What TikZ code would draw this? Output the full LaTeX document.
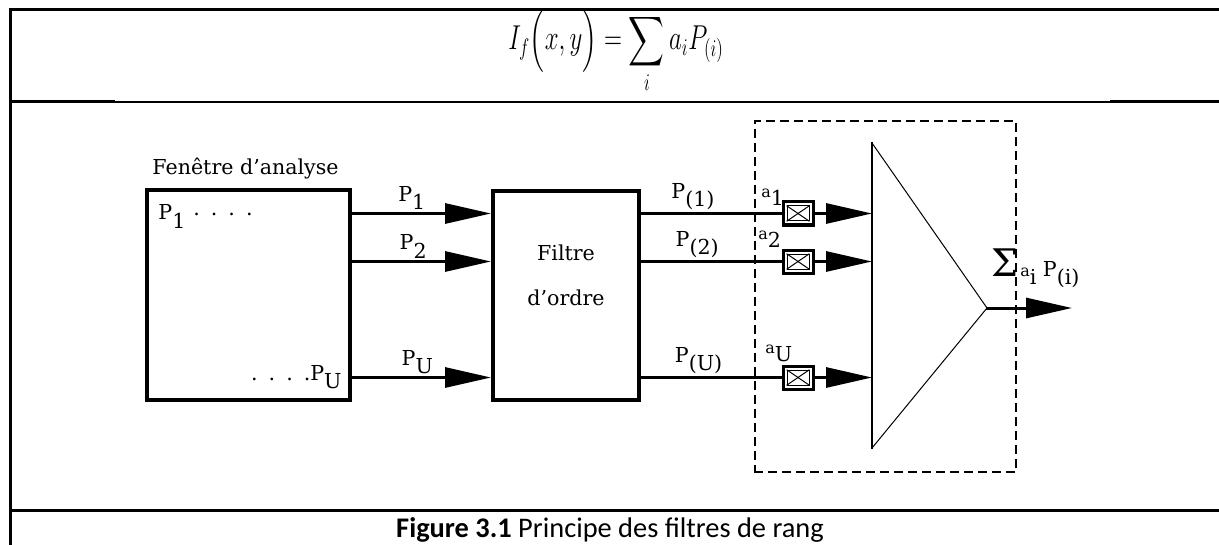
\documentclass[tikz,border=0pt]{standalone}
\usepackage{amsmath}
\usepackage{exscale}
\usepackage{fontspec}
\setmainfont{DejaVu Serif}
\newfontfamily\capfont{Carlito}
\usetikzlibrary{arrows.meta,fit}

\newcommand\low[1]{\raisebox{-.75ex}{#1}}
\newcommand\dotrow{.\hspace{5.5pt}.\hspace{5.5pt}.\hspace{5.5pt}.}

\tikzset{
  frame/.style={line width=1.5pt},
  block/.style={draw,line width=2pt,inner sep=0pt},
  wire/.style={line width=1.5pt},
  sig/.style={wire,-{Triangle[length=23pt,width=10pt]}},
  lbl/.style={inner sep=1pt,font=\fontsize{10.3}{12}\selectfont},
  gain/.style={draw,line width=1.5pt,minimum width=15pt,minimum height=11.5pt,inner sep=0pt,
    path picture={
      \draw[line width=.5pt] ([xshift=2pt,yshift=-2pt]path picture bounding box.north west)
        rectangle ([xshift=-2pt,yshift=2pt]path picture bounding box.south east);
      \draw[line width=.5pt] ([xshift=2pt,yshift=-2pt]path picture bounding box.north west)
        -- ([xshift=-2pt,yshift=2pt]path picture bounding box.south east);
      \draw[line width=.5pt] ([xshift=2pt,yshift=2pt]path picture bounding box.south west)
        -- ([xshift=-2pt,yshift=-2pt]path picture bounding box.north east);}},
  dashbox/.style={draw,line width=1pt,dash pattern=on 3.5pt off 3.5pt,inner sep=0pt},
}

\begin{document}
\begin{tikzpicture}[x=.5pt,y=-.5pt,line cap=rect]
\useasboundingbox (0,0) rectangle (1219,545);
% table lines
\draw[frame] (10,545)--(10,10)--(1219,10);
\draw[frame] (10,102)--(113,102);
\draw[line width=.75pt] (113,102)--(1111,102);
\draw[frame] (1111,102)--(1219,102);
\draw[frame] (10,510)--(1219,510);
% formula
\node[anchor=base,inner sep=0pt] (eq) at (616,50)
  {\fontsize{18.5}{22}\selectfont\scalebox{.72}[1]{$\displaystyle I_f\Bigl(x,y\Bigr)=\sum_i a_iP_{(i)}$}};
% rows
\coordinate (r1) at (0,213.5);
\coordinate (r2) at (0,261.5);
\coordinate (rU) at (0,377.5);
% analysis window
\node[lbl,anchor=base west] (wt) at (150,175) {Fenêtre d’analyse};
\node[block,fit={(147,190)(350,400)}] (win) {};
\node[lbl,anchor=base west] (w1) at (156,220) {P\low{1}\hspace{4pt}\raisebox{2pt}{\dotrow}};
\node[lbl,anchor=base east] (wU) at (344,380) {\dotrow P\low{U}};
% order filter
\node[block,fit={(493,191)(639,400)}] (ord) {};
\node[lbl] (ft1) at (566,253) {Filtre};
\node[lbl] (ft2) at (566,298) {d’ordre};
\draw[sig] (win.east |- r1) -- node[lbl,above,pos=.43] (lp1) {P\low{1}} (ord.west |- r1);
\draw[sig] (win.east |- r2) -- node[lbl,above,pos=.44] (lp2) {P\low{2}} (ord.west |- r2);
\draw[sig] (win.east |- rU) -- node[lbl,above,pos=.47] (lpU) {P\low{U}} (ord.west |- rU);
% weighted sum
\node[dashbox,fit={(755,121)(1016,472)}] (grp) {};
\coordinate (tt) at (872,143);
\coordinate (tb) at (872,448);
\coordinate (tp) at (987,308);
\draw[line width=1pt] (tt)--(tb);
\draw[line width=.5pt] (tt)--(tp)--(tb);
\node[gain] (g1) at (798,213.5) {};
\node[gain] (g2) at (798,261.5) {};
\node[gain] (gU) at (798,377.5) {};
\draw[wire] (ord.east |- r1) -- node[lbl,above,pos=.37] (lq1) {P\low{(1)}} (g1.west);
\draw[wire] (ord.east |- r2) -- node[lbl,above,pos=.40] (lq2) {P\low{(2)}} (g2.west);
\draw[wire] (ord.east |- rU) -- node[lbl,above,pos=.41] (lqU) {P\low{(U)}} (gU.west);
\node[lbl,anchor=south west] (a1) at (759,208) {{\footnotesize a}\low{1}};
\node[lbl,anchor=south west] (a2) at (756,250) {{\footnotesize a}\low{2}};
\node[lbl,anchor=south west] (aU) at (763,364) {{\footnotesize a}\low{U}};
\draw[sig] (g1.east) -- (tt |- r1);
\draw[sig] (g2.east) -- (tt |- r2);
\draw[sig] (gU.east) -- (tt |- rU);
\coordinate (out) at (1072,308);
\draw[sig] (tp) -- (out);
\node[lbl,anchor=south west] (sg) at (989,290)
  {{\fontsize{19}{19}\selectfont Σ}\hspace{1pt}{\footnotesize a}\low{i} P\low{(i)}};
% caption
\node[anchor=base,inner sep=0pt] (cap) at (610,537)
  {\capfont\fontsize{14.2}{16}\selectfont\textbf{Figure 3.1} Principe des filtres de rang};
\end{tikzpicture}
\end{document}
